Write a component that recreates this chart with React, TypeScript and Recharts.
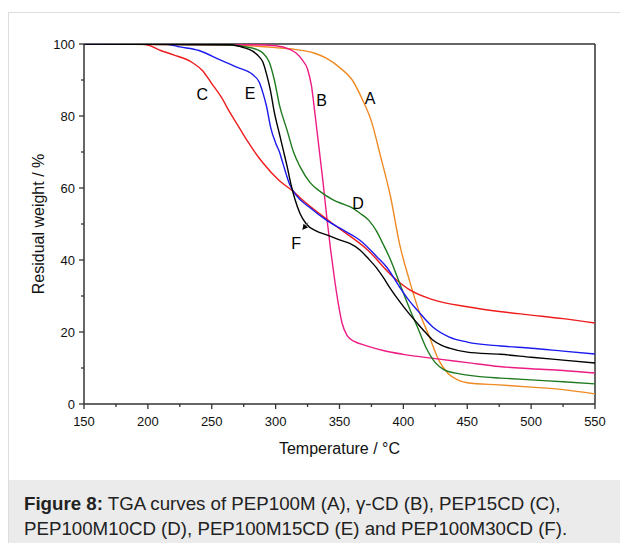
import React from 'react';
import { LineChart, Line, XAxis, YAxis, ReferenceLine, ReferenceDot } from 'recharts';

// TGA curves, temperature (°C) and residual weight (%)
const tempA = [150, 250, 280, 300, 315, 330, 340, 350, 360, 368, 375, 382, 390, 397, 405, 412, 420, 428, 435, 442, 450, 475, 500, 525, 550];
const weightA = [100, 99.8, 99.5, 99, 98.5, 97.5, 96, 93.5, 90, 84.5, 78.5, 69, 57.5, 44.5, 34, 26, 19, 12, 8.5, 6.8, 5.9, 5.3, 4.7, 4, 2.8];

const tempB = [150, 280, 300, 311, 316, 321, 325, 328, 331, 334, 337, 340, 343, 346, 349, 352, 356, 362, 370, 385, 400, 425, 450, 475, 500, 525, 550];
const weightB = [100, 99.8, 99.5, 98.5, 97.5, 95.5, 93, 88.5, 80, 71, 62, 52, 43, 35, 28, 22.5, 19, 17.3, 16.3, 14.8, 13.8, 12.6, 11.5, 10.4, 9.8, 9.3, 8.6];

const tempC = [150, 195, 200, 210, 220, 235, 243, 250, 257, 265, 272, 278, 290, 303, 314, 320, 345, 372, 392, 405, 423, 450, 475, 500, 525, 550];
const weightC = [100, 100, 99.7, 98.2, 97, 94.8, 92.5, 89, 85.5, 80.5, 76.5, 73, 67, 62, 59, 57, 50, 42.8, 35.3, 31.7, 29, 27, 25.7, 24.7, 23.7, 22.5];

const tempD = [150, 260, 275, 285, 290, 295, 299, 303, 309, 314, 319, 327, 335, 345, 353, 360, 366, 373, 379, 384, 390, 395, 400, 406, 411, 418, 425, 432, 442, 460, 476, 500, 525, 550];
const weightD = [100, 99.8, 99.3, 98.5, 97.5, 95, 90, 83, 76, 70, 66, 61.5, 59, 56.7, 55.5, 54.5, 53, 51, 48, 44.5, 40, 35.5, 30.8, 25.5, 21.4, 15.5, 11.5, 9.5, 8.5, 7.6, 7.2, 6.7, 6.2, 5.6];

const tempE = [150, 215, 225, 240, 257, 270, 282, 287, 290, 293, 296, 300, 303, 306, 311, 316, 327, 340, 353, 366, 379, 387, 397, 405, 411, 423, 436, 450, 476, 500, 525, 550];
const weightE = [100, 99.9, 99.2, 98.2, 95.5, 93.5, 91.5, 89.5, 86.5, 82.5, 77, 72.5, 70, 66.5, 61, 58, 54.5, 51, 48.3, 45.5, 41, 38, 32.5, 28.5, 26, 21.4, 18.6, 17.2, 16.1, 15.5, 14.7, 13.9];

const tempF = [150, 265, 275, 282, 287, 290, 293, 296, 299, 303, 306, 309, 312, 315, 319, 324, 332, 340, 350, 358, 366, 372, 379, 384, 390, 397, 404, 411, 417, 423, 430, 436, 450, 476, 500, 525, 550];
const weightF = [100, 99.8, 99, 98, 96.5, 95, 91.5, 87, 81, 75, 70.5, 66, 61, 57, 53, 50, 48, 47, 45.6, 44.6, 42.8, 40.6, 37.8, 35.3, 32, 28.5, 25.3, 22.4, 20, 17.8, 16.3, 15.5, 14.4, 13.8, 13, 12.2, 11.4];

const xTicks = [150, 175, 200, 225, 250, 275, 300, 325, 350, 375, 400, 425, 450, 475, 500, 525, 550];
const yTicks = [0, 10, 20, 30, 40, 50, 60, 70, 80, 90, 100];

// curve letters: [letter, temperature, weight]
const curveLabels: [string, number, number][] = [
  ['A', 374, 85],
  ['B', 336, 84.4],
  ['C', 242.5, 86.1],
  ['D', 364.5, 55.8],
  ['E', 280, 86.4],
  ['F', 316, 44.7],
];

const zip = (t: number[], w: number[]) => t.map((v, i) => ({ t: v, w: w[i] }));

const series = [
  { key: 'A', data: zip(tempA, weightA), color: '#ef8a24' },
  { key: 'B', data: zip(tempB, weightB), color: '#ec1c84' },
  { key: 'C', data: zip(tempC, weightC), color: '#ee1c1c' },
  { key: 'D', data: zip(tempD, weightD), color: '#1f7a1f' },
  { key: 'E', data: zip(tempE, weightE), color: '#1a1aee' },
  { key: 'F', data: zip(tempF, weightF), color: '#000000' },
];

const FONT = '"Liberation Sans", Arial, sans-serif';
const AXIS = '#333';

const XTick = (props: any) => {
  const { x, y, payload } = props;
  const major = payload.value % 50 === 0;
  return (
    <g>
      <line x1={x} x2={x} y1={y} y2={y + (major ? 5 : 3)} stroke={AXIS} strokeWidth={1.3} />
      {major && (
        <text x={x} y={y + 22} textAnchor="middle" fontSize={13} fontFamily={FONT} fill="#111">
          {payload.value}
        </text>
      )}
    </g>
  );
};

const YTick = (props: any) => {
  const { x, y, payload } = props;
  const major = payload.value % 20 === 0;
  return (
    <g>
      <line x1={x} x2={x - (major ? 5 : 3)} y1={y} y2={y} stroke={AXIS} strokeWidth={1.3} />
      {major && (
        <text x={x - 9} y={y} dy="0.35em" textAnchor="end" fontSize={13} fontFamily={FONT} fill="#111">
          {payload.value}
        </text>
      )}
    </g>
  );
};

const XTitle = (props: any) => {
  const vb = props.viewBox;
  return (
    <text x={vb.x + vb.width / 2} y={vb.y + 50} textAnchor="middle" fontSize={16} fontFamily={FONT} fill="#111">
      Temperature / °C
    </text>
  );
};

const YTitle = (props: any) => {
  const vb = props.viewBox;
  const cx = 29;
  const cy = vb.y + vb.height / 2;
  return (
    <text
      x={cx}
      y={cy}
      transform={`rotate(-90 ${cx} ${cy})`}
      textAnchor="middle"
      dominantBaseline="central"
      fontSize={16}
      fontFamily={FONT}
      fill="#111"
    >
      Residual weight / %
    </text>
  );
};

const Arrow = (props: any) => {
  const { x1, y1, x2, y2 } = props;
  // arrow head sits at (x1, y1)
  const a = Math.atan2(y1 - y2, x1 - x2);
  const s = 6;
  const p1 = [x1 - s * Math.cos(a - 0.5), y1 - s * Math.sin(a - 0.5)];
  const p2 = [x1 - s * Math.cos(a + 0.5), y1 - s * Math.sin(a + 0.5)];
  return (
    <g>
      <line x1={x1} y1={y1} x2={x2} y2={y2} stroke="#666" strokeWidth={0.9} />
      <polygon points={`${x1},${y1} ${p1[0]},${p1[1]} ${p2[0]},${p2[1]}`} fill="#000" />
    </g>
  );
};

export default function App() {
  return (
    <div
      style={{
        position: 'absolute',
        left: 8,
        top: 12,
        width: 612,
        height: 531,
        borderTop: '1px solid #ddd',
        borderLeft: '1px solid #ddd',
        background: '#fff',
        overflow: 'hidden',
      }}
    >
      <LineChart width={600} height={465} margin={{ top: 31, right: 14, left: 0, bottom: 0 }}>
        <XAxis
          dataKey="t"
          type="number"
          domain={[150, 550]}
          ticks={xTicks}
          interval={0}
          tick={<XTick />}
          tickLine={false}
          tickSize={0}
          tickMargin={0}
          height={74}
          axisLine={{ stroke: AXIS, strokeWidth: 1.5 }}
          allowDataOverflow
          label={<XTitle />}
        />
        <YAxis
          type="number"
          domain={[0, 100]}
          ticks={yTicks}
          interval={0}
          tick={<YTick />}
          tickLine={false}
          tickSize={0}
          tickMargin={0}
          width={75}
          axisLine={{ stroke: AXIS, strokeWidth: 1.5 }}
          allowDataOverflow
          label={<YTitle />}
        />
        <ReferenceLine y={100} stroke={AXIS} strokeWidth={1.5} />
        <ReferenceLine x={550} stroke={AXIS} strokeWidth={1.5} />
        {series.map((s) => (
          <Line
            key={s.key}
            data={s.data}
            dataKey="w"
            type="monotone"
            stroke={s.color}
            strokeWidth={1.4}
            dot={false}
            activeDot={false}
            isAnimationActive={false}
          />
        ))}
        <ReferenceLine
          segment={[
            { x: 321, y: 48.4 },
            { x: 325.5, y: 50.4 },
          ]}
          shape={<Arrow />}
        />
        {curveLabels.map(([name, t, w]) => (
          <ReferenceDot
            key={name}
            x={t}
            y={w}
            r={0}
            shape={(p: any) => (
              <text x={p.cx} y={p.cy} dy="0.36em" textAnchor="middle" fontSize={16} fontFamily={FONT} fill="#000">
                {name}
              </text>
            )}
          />
        ))}
      </LineChart>
      <div
        style={{
          position: 'absolute',
          left: 0,
          top: 467,
          width: 612,
          height: 70,
          background: '#ebebeb',
          fontFamily: FONT,
          fontSize: 18.7,
          lineHeight: '24.5px',
          color: '#222',
          padding: '12px 0 0 15px',
          boxSizing: 'border-box',
          whiteSpace: 'nowrap',
        }}
      >
        <b>Figure 8:</b> TGA curves of PEP100M (A), γ-CD (B), PEP15CD (C),
        <br />
        PEP100M10CD (D), PEP100M15CD (E) and PEP100M30CD (F).
      </div>
    </div>
  );
}
